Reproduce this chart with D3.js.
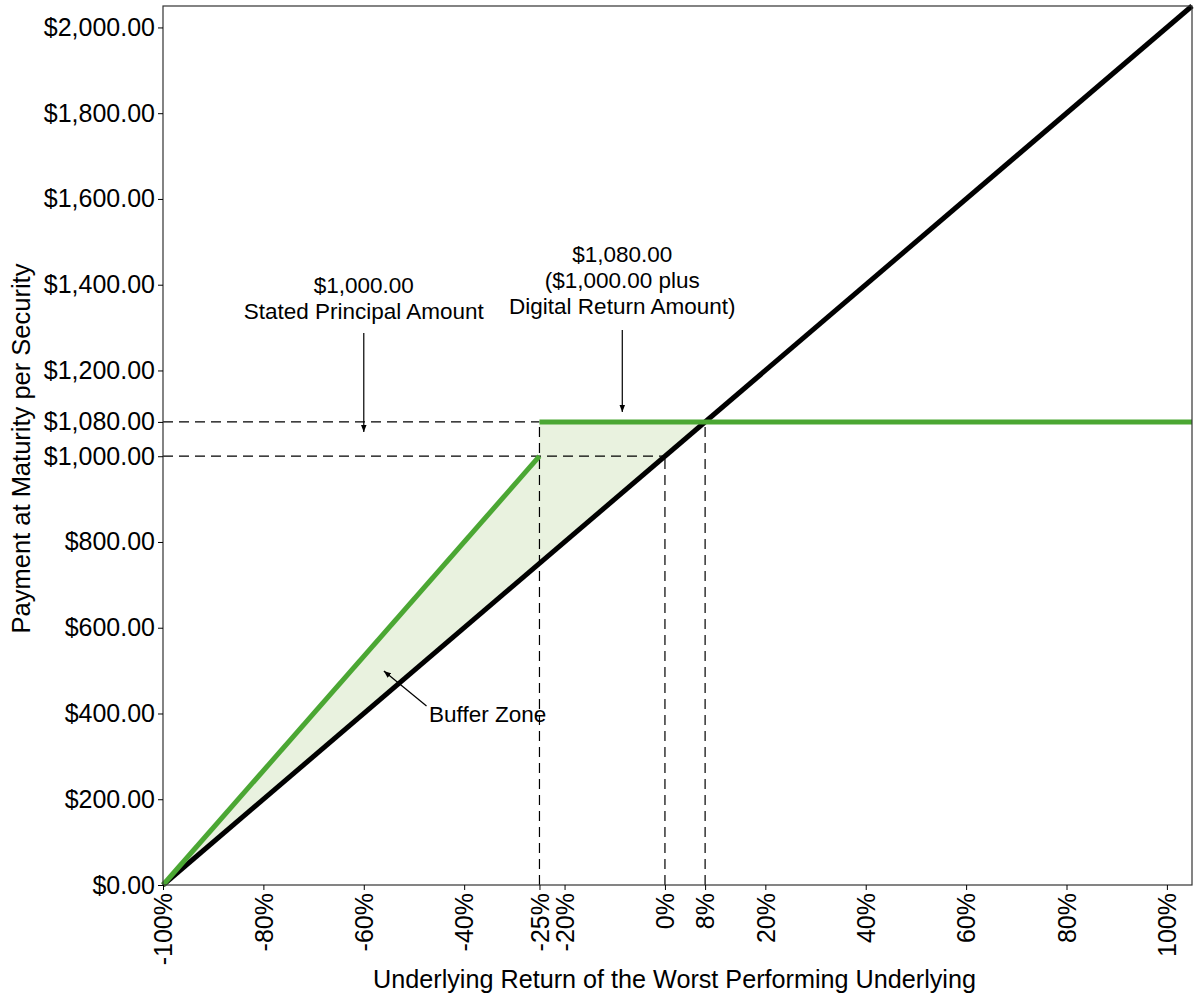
<!DOCTYPE html>
<html>
<head>
<meta charset="utf-8">
<script src="https://cdn.jsdelivr.net/npm/d3@7"></script>
<style>
  body { margin: 0; background: #fff; }
  text { font-family: "Liberation Sans", Arial, sans-serif; }
</style>
</head>
<body>
<div id="chart"></div>
<script>
// data
const xTicks = [-1, -0.8, -0.6, -0.4, -0.25, -0.2, 0, 0.08, 0.2, 0.4, 0.6, 0.8, 1];
const yTicks = [0, 200, 400, 600, 800, 1000, 1080, 1200, 1400, 1600, 1800, 2000];
const underlyingX = [-1, 1.05];
const underlyingY = [0, 2050];
const securityX = [-1, -0.25, -0.25, 1.05];
const securityY = [0, 1000, 1080, 1080];
const bufferX = [-1, -0.25, -0.25, 0.08];
const bufferTop = [0, 1000, 1080, 1080];
const bufferBottom = [0, 750, 750, 1080];

const margin = { top: 6, right: 8, bottom: 115, left: 163 };
const width = 1200 - margin.left - margin.right;
const height = 1000 - margin.top - margin.bottom;

const svg = d3
  .select("#chart")
  .append("svg")
  .attr("width", 1200)
  .attr("height", 1000)
  .append("g")
  .attr("transform", `translate(${margin.left}, ${margin.top})`);

const x = d3.scaleLinear().domain([-1, 1.05]).range([0, width]);
const y = d3.scaleLinear().domain([0, 2050]).range([height, 0]);

// buffer zone fill
const area = d3
  .area()
  .x((d) => x(d.x))
  .y0((d) => y(d.lo))
  .y1((d) => y(d.hi));
svg
  .append("path")
  .datum(bufferX.map((v, i) => ({ x: v, hi: bufferTop[i], lo: bufferBottom[i] })))
  .attr("d", area)
  .attr("fill", "#e9f2df");

// dashed guides
const guides = [
  { x1: -1, y1: 1000, x2: 0, y2: 1000 },
  { x1: -1, y1: 1080, x2: -0.25, y2: 1080 },
  { x1: -0.25, y1: 0, x2: -0.25, y2: 1080 },
  { x1: 0, y1: 0, x2: 0, y2: 1000 },
  { x1: 0.08, y1: 0, x2: 0.08, y2: 1080 },
];
svg
  .selectAll(".guide")
  .data(guides)
  .join("line")
  .attr("x1", (d) => x(d.x1))
  .attr("y1", (d) => y(d.y1))
  .attr("x2", (d) => x(d.x2))
  .attr("y2", (d) => y(d.y2))
  .attr("stroke", "#000")
  .attr("stroke-width", 1.2)
  .attr("stroke-dasharray", "10,6");

const line = d3
  .line()
  .x((d) => x(d[0]))
  .y((d) => y(d[1]));

// underlying line (black)
svg
  .append("path")
  .datum(underlyingX.map((v, i) => [v, underlyingY[i]]))
  .attr("d", line)
  .attr("fill", "none")
  .attr("stroke", "#000")
  .attr("stroke-width", 5);

// security payoff (green), two pieces
svg
  .append("path")
  .datum([[securityX[0], securityY[0]], [securityX[1], securityY[1]]])
  .attr("d", line)
  .attr("fill", "none")
  .attr("stroke", "#4ba733")
  .attr("stroke-width", 5);
svg
  .append("path")
  .datum([[securityX[2], securityY[2]], [securityX[3], securityY[3]]])
  .attr("d", line)
  .attr("fill", "none")
  .attr("stroke", "#4ba733")
  .attr("stroke-width", 5);

// frame
svg
  .append("rect")
  .attr("width", width)
  .attr("height", height)
  .attr("fill", "none")
  .attr("stroke", "#333")
  .attr("stroke-width", 1.2);

// Y axis
const yAxis = svg
  .append("g")
  .call(
    d3.axisLeft(y)
      .tickValues(yTicks)
      .tickSize(5)
      .tickPadding(3)
      .tickFormat((d) => "$" + d3.format(",.2f")(d))
  );
yAxis.select(".domain").remove();
yAxis.selectAll("text").attr("font-size", 25).attr("fill", "#000");

// X axis
const xAxis = svg
  .append("g")
  .attr("transform", `translate(0, ${height})`)
  .call(
    d3.axisBottom(x)
      .tickValues(xTicks)
      .tickSize(5)
      .tickFormat((d) => Math.round(d * 100) + "%")
  );
xAxis.select(".domain").remove();
xAxis
  .selectAll("text")
  .attr("font-size", 25)
  .attr("fill", "#000")
  .attr("transform", "rotate(-90)")
  .attr("x", -8)
  .attr("y", 0)
  .attr("dy", "0.35em")
  .style("text-anchor", "end");

// axis titles
svg
  .append("text")
  .attr("transform", `translate(${-133}, ${height / 2 + 3}) rotate(-90)`)
  .attr("text-anchor", "middle")
  .attr("font-size", 25.5)
  .text("Payment at Maturity per Security");

svg
  .append("text")
  .attr("x", width / 2 - 3)
  .attr("y", height + 103)
  .attr("text-anchor", "middle")
  .attr("font-size", 25.2)
  .text("Underlying Return of the Worst Performing Underlying");

// annotations
svg
  .append("defs")
  .append("marker")
  .attr("id", "arr")
  .attr("viewBox", "0 0 10 10")
  .attr("refX", 10)
  .attr("refY", 5)
  .attr("markerWidth", 6)
  .attr("markerHeight", 6)
  .attr("orient", "auto")
  .append("path")
  .attr("d", "M0,1L10,5L0,9z")
  .attr("fill", "#000");

function note(lines, cx, cy, anchor) {
  const t = svg
    .append("text")
    .attr("font-size", 22.5)
    .attr("text-anchor", anchor || "middle");
  lines.forEach((s, i) => {
    t.append("tspan").attr("x", cx).attr("y", cy + i * 26).text(s);
  });
}
function arrow(x1, y1, x2, y2) {
  svg
    .append("line")
    .attr("x1", x1)
    .attr("y1", y1)
    .attr("x2", x2)
    .attr("y2", y2)
    .attr("stroke", "#000")
    .attr("stroke-width", 1.2)
    .attr("marker-end", "url(#arr)");
}

note(["$1,000.00", "Stated Principal Amount"], x(-0.6), 287);
arrow(x(-0.6), 327, x(-0.6), y(1080) + 10);

note(["$1,080.00", "($1,000.00 plus", "Digital Return Amount)"], x(-0.085), 256);
arrow(x(-0.085), 324, x(-0.085), y(1080) - 10);

note(["Buffer Zone"], x(-0.47), 716, "start");
arrow(x(-0.475), 700, x(-0.56), 665);
</script>
</body>
</html>
